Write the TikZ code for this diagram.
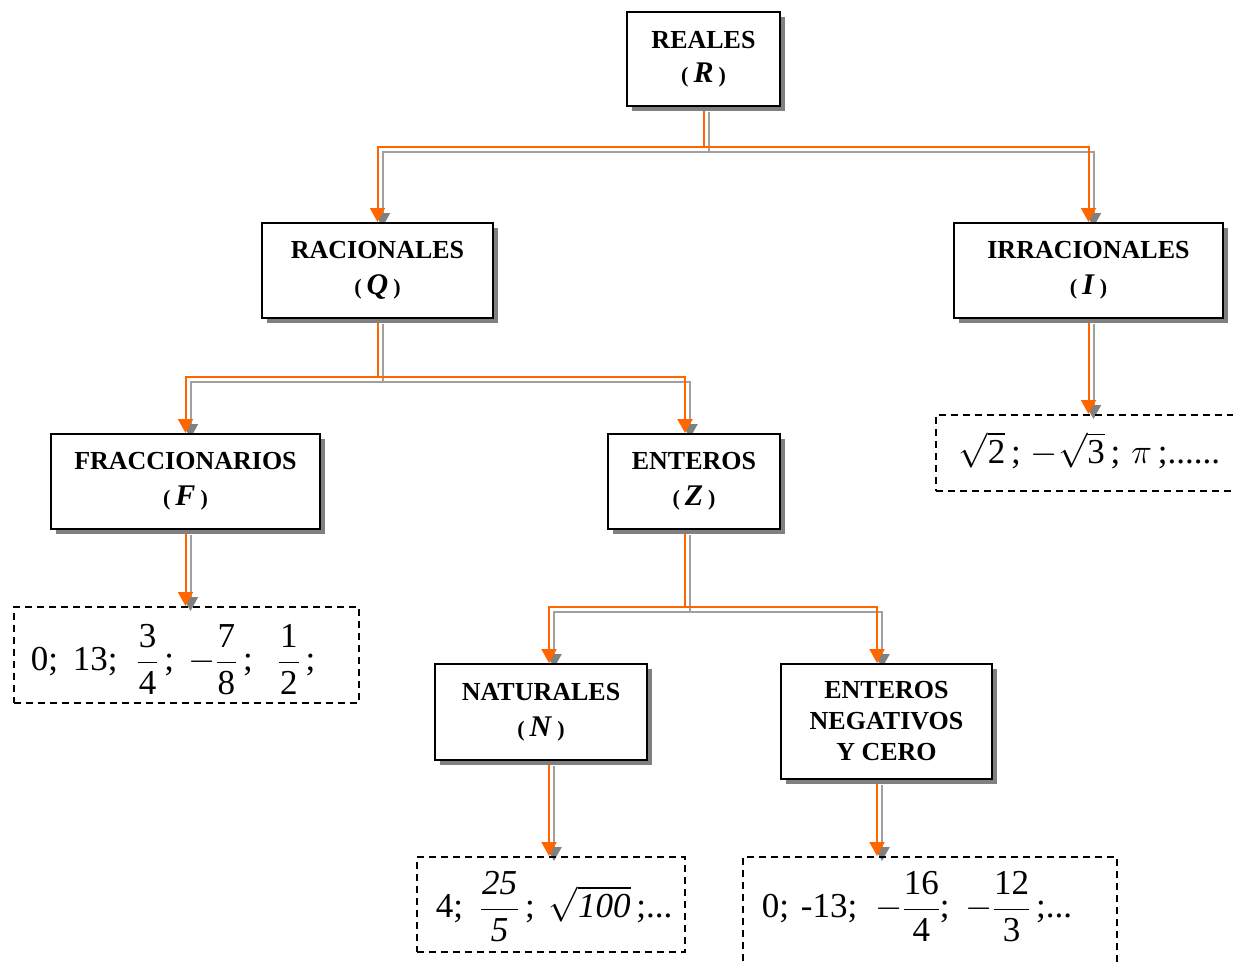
\RequirePackage{fix-cm}
\documentclass[tikz,border=0pt]{standalone}
\usepackage{amsmath}
\usepackage{fontspec}
\setmainfont{Liberation Serif}
\usetikzlibrary{arrows.meta,shadows,calc}
\pgfdeclarelayer{bg}
\pgfsetlayers{bg,main}
\definecolor{conorange}{HTML}{FF6600}
\definecolor{shgray}{HTML}{808080}
\definecolor{lngray}{HTML}{A0A0A0}
\newcommand\prn[1]{{\fontsize{22}{24}\selectfont(\hspace{5pt}}{\fontsize{30}{34}\selectfont\textit{#1}}{\fontsize{22}{24}\selectfont\hspace{5pt})}}
\newcommand\cnx[1]{\draw[cshadow] #1; \draw[corange] #1;}
\newcommand\nf[2]{\dfrac{\mbox{\hspace{1pt}#1\hspace{1pt}}}{\mbox{\hspace{1pt}#2\hspace{1pt}}}}
\newcommand\nfs[2]{\dfrac{\mbox{#1}}{\mbox{#2}}}
\begin{document}
\begin{tikzpicture}[x=1pt,y=-1pt,
  lab/.style={draw=black, line width=2pt, fill=white, align=center, inner sep=0pt,
    font=\fontsize{26}{34}\selectfont\bfseries,
    drop shadow={shadow xshift=5pt, shadow yshift=-5pt, fill=shgray, opacity=1}},
  dbox/.style={draw=black, line width=1.5pt, dash pattern=on 7pt off 5pt, anchor=north west,
    inner ysep=0pt, align=left, font=\fontsize{35}{40}\selectfont},
  corange/.style={draw=conorange, line width=2pt, -{Triangle[length=14pt,width=15pt,color=conorange]}},
  cshadow/.style={draw=lngray, line width=2pt, -{Triangle[length=14pt,width=15pt,color=shgray]},
    transform canvas={shift={(5,5)}}}]
\useasboundingbox (0,0) rectangle (1233,961);
% labelled boxes
\node[lab, minimum width=153pt, minimum height=94pt] (R) at (703.5,59) {REALES\\[0pt]\prn{R}};
\node[lab, minimum width=231pt, minimum height=95pt] (Q) at (377.5,270.5) {RACIONALES\\[2pt]\prn{Q}};
\node[lab, minimum width=269pt, minimum height=95pt] (I) at (1088.5,270.5) {IRRACIONALES\\[2pt]\prn{I}};
\node[lab, minimum width=269pt, minimum height=95pt] (F) at (185.5,481.5) {FRACCIONARIOS\\[2pt]\prn{F}};
\node[lab, minimum width=172pt, minimum height=95pt] (Z) at (694,481.5) {ENTEROS\\[2pt]\prn{Z}};
\node[lab, minimum width=212pt, minimum height=96pt] (N) at (541,712) {NATURALES\\[2pt]\prn{N}};
\node[lab, minimum width=211pt, minimum height=115pt, font=\fontsize{26}{31}\selectfont\bfseries] (E) at (886.5,721.5) {ENTEROS\\NEGATIVOS\\Y CERO};
% dashed example boxes
\node[dbox, text width=269pt, inner xsep=23pt, text height=49pt, text depth=27pt] (irr) at (935,414)
  {\mbox{$\sqrt{\mbox{2}}$\,;\hspace{10pt}$-\sqrt{\mbox{3}}$\,;\hspace{11pt}$\pi$\,;......}};
\node[dbox, text width=311pt, inner xsep=17pt, text height=64pt, text depth=32pt] (fr) at (13,606)
  {\mbox{0;\hspace{15pt}13;\hspace{19pt}$\nf{3}{4}$\,;\hspace{14pt}$-\nf{7}{8}$\,;\hspace{25pt}$\nf{1}{2}$\,;}};
\node[dbox, text width=230pt, inner xsep=19pt, text height=61pt, text depth=34pt] (nat) at (416,856)
  {\mbox{4;\hspace{17pt}$\dfrac{\mbox{\itshape\hspace{1pt}25\hspace{1pt}}}{\mbox{\itshape 5}}$\,;\hspace{14pt}$\sqrt{\mbox{\itshape 100}}$\,;...}};
\node[dbox, text width=336pt, inner xsep=19pt, text height=61pt, text depth=150pt] (neg) at (742,856)
  {\mbox{0;\hspace{12pt}-13;\hspace{18pt}$-\nfs{16}{4}$;\hspace{16pt}$-\nfs{12}{3}$\,;...}};
% connectors
\begin{pgfonlayer}{bg}
\cnx{(R.south) -- ++(0,40) -| (Q.north)}
\cnx{(R.south) -- ++(0,40) -| (I.north)}
\cnx{(Q.south) -- ++(0,58) -| (F.north)}
\cnx{(Q.south) -- ++(0,58) -| ([xshift=-9pt]Z.north)}
\cnx{([xshift=-9pt]Z.south) -- ++(0,77) -| ([xshift=8pt]N.north)}
\cnx{([xshift=-9pt]Z.south) -- ++(0,77) -| ([xshift=-9.5pt]E.north)}
\cnx{(I.south) -- (I.south |- irr.north)}
\cnx{(F.south) -- (F.south |- fr.north)}
\cnx{([xshift=8pt]N.south) -- ([xshift=8pt]N.south |- nat.north)}
\cnx{([xshift=-9.5pt]E.south) -- ([xshift=-9.5pt]E.south |- neg.north)}
\end{pgfonlayer}
\end{tikzpicture}
\end{document}
